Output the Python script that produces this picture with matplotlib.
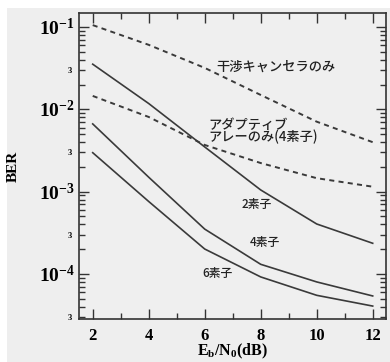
import math
import matplotlib
matplotlib.use("Agg")
import matplotlib.pyplot as plt
from matplotlib.ticker import FixedLocator, FuncFormatter
from matplotlib.patches import Rectangle

plt.rcParams['font.family'] = ['Noto Sans CJK JP', 'DejaVu Sans']
plt.rcParams['mathtext.fontset'] = 'custom'
plt.rcParams['mathtext.rm'] = 'Liberation Serif:bold'
plt.rcParams['mathtext.bf'] = 'Liberation Serif:bold'
plt.rcParams['mathtext.it'] = 'Liberation Serif:bold'

# Eb/N0 (dB)
ebn0 = [2, 4, 6, 8, 10, 12]

# BER curves
ber_canceller_only = [0.106, 0.061, 0.032, 0.015, 0.0071, 0.0040]
ber_array_only_4 = [0.0146, 0.0081, 0.0037, 0.00223, 0.00146, 0.00115]
ber_2elem = [0.0355, 0.0118, 0.0035, 0.00105, 0.000405, 0.000236]
ber_4elem = [0.00667, 0.0015, 0.000351, 0.000131, 8.0e-5, 5.4e-5]
ber_6elem = [0.00298, 0.00076, 0.000201, 9.2e-5, 5.5e-5, 4.07e-5]

x_ticks = [2, 4, 6, 8, 10, 12]
y_decades = [1e-1, 1e-2, 1e-3, 1e-4]
y_decade_labels = [r'$\mathbf{10^{-1}}$', r'$\mathbf{10^{-2}}$',
                   r'$\mathbf{10^{-3}}$', r'$\mathbf{10^{-4}}$']

fig = plt.figure(figsize=(3.9, 3.62), dpi=100)
fig.patch.set_facecolor('#eeeeee')
# white paper margin along the top and left edges
fig.patches.append(Rectangle((0, 1 - 8 / 362), 1, 8 / 362, transform=fig.transFigure,
                             facecolor='white', edgecolor='none', zorder=-10))
fig.patches.append(Rectangle((0, 0), 7 / 390, 1, transform=fig.transFigure,
                             facecolor='white', edgecolor='none', zorder=-10))

ax = fig.add_axes([79 / 390, 1 - 319.3 / 362, (386 - 79) / 390, (319.3 - 12.7) / 362])
ax.set_facecolor('#efefef')

line_color = '#3a3a3a'
ax.plot(ebn0, ber_canceller_only, color=line_color, lw=1.4, ls=(0, (2.6, 2.2)))
ax.plot(ebn0, ber_array_only_4, color=line_color, lw=1.4, ls=(0, (2.6, 2.2)))
ax.plot(ebn0, ber_2elem, color=line_color, lw=1.2)
ax.plot(ebn0, ber_4elem, color=line_color, lw=1.2)
ax.plot(ebn0, ber_6elem, color=line_color, lw=1.2)

ax.set_yscale('log')
ax.set_xlim(1.51, 12.475)
ax.set_ylim(2.81e-5, 0.15)

# x axis ticks
ax.xaxis.set_major_locator(FixedLocator(x_ticks))
ax.xaxis.set_minor_locator(FixedLocator([3, 5, 7, 9, 11]))
ax.set_xticklabels([str(v) for v in x_ticks], fontfamily='Liberation Serif',
                   fontweight='bold', fontsize=12)


def decade_label(v, pos):
    i = min(range(len(y_decades)), key=lambda k: abs(math.log10(y_decades[k]) - math.log10(v)))
    return y_decade_labels[i]


def minor_label(v, pos):
    mant = v / 10 ** math.floor(math.log10(v) + 1e-9)
    return '3' if abs(mant - 3) < 0.01 else ''


# y axis ticks
ax.yaxis.set_major_locator(FixedLocator(y_decades))
ax.yaxis.set_major_formatter(FuncFormatter(decade_label))
minor_vals = [m * 10.0 ** e for e in range(-5, -1) for m in range(2, 10)]
ax.yaxis.set_minor_locator(FixedLocator(minor_vals))
ax.yaxis.set_minor_formatter(FuncFormatter(minor_label))
ax.tick_params(axis='y', which='major', labelsize=14, pad=3)
ax.tick_params(axis='y', which='minor', labelsize=6, pad=5)
for lab in ax.yaxis.get_minorticklabels():
    lab.set_fontfamily('Liberation Serif')
    lab.set_fontweight('bold')

ax.tick_params(which='both', direction='in', top=True, right=True,
               color='#333333', width=1.0)
ax.tick_params(which='major', length=7)
ax.tick_params(which='minor', length=4)
ax.tick_params(axis='x', which='major', pad=6)

for s in ax.spines.values():
    s.set_color('#333333')
    s.set_linewidth(1.2)

ax.set_xlabel(r'$\mathbf{E_b/N_0(dB)}$', fontsize=11.5, labelpad=-1)
ax.set_ylabel('BER', fontfamily='Liberation Serif', fontweight='bold',
              fontsize=11, labelpad=14)

# curve annotations
txt_color = '#222222'
ax.text(8.53, 0.0329, '干渉キャンセラのみ', fontsize=9.5, ha='center', va='center',
        color=txt_color, fontweight='medium')
ax.text(6.13, 0.00545, 'アダプティブ\nアレーのみ(4素子)', fontsize=9.5, ha='left',
        va='center', multialignment='left', linespacing=0.85,
        color=txt_color, fontweight='medium')
ax.text(7.85, 6.9e-4, '2素子', fontsize=8.5, ha='center', va='center',
        color=txt_color, fontweight='medium')
ax.text(8.14, 2.40e-4, '4素子', fontsize=8.5, ha='center', va='center',
        color=txt_color, fontweight='medium')
ax.text(6.44, 1.016e-4, '6素子', fontsize=8.5, ha='center', va='center',
        color=txt_color, fontweight='medium')

fig.savefig('out.png', dpi=100, facecolor=fig.get_facecolor())
